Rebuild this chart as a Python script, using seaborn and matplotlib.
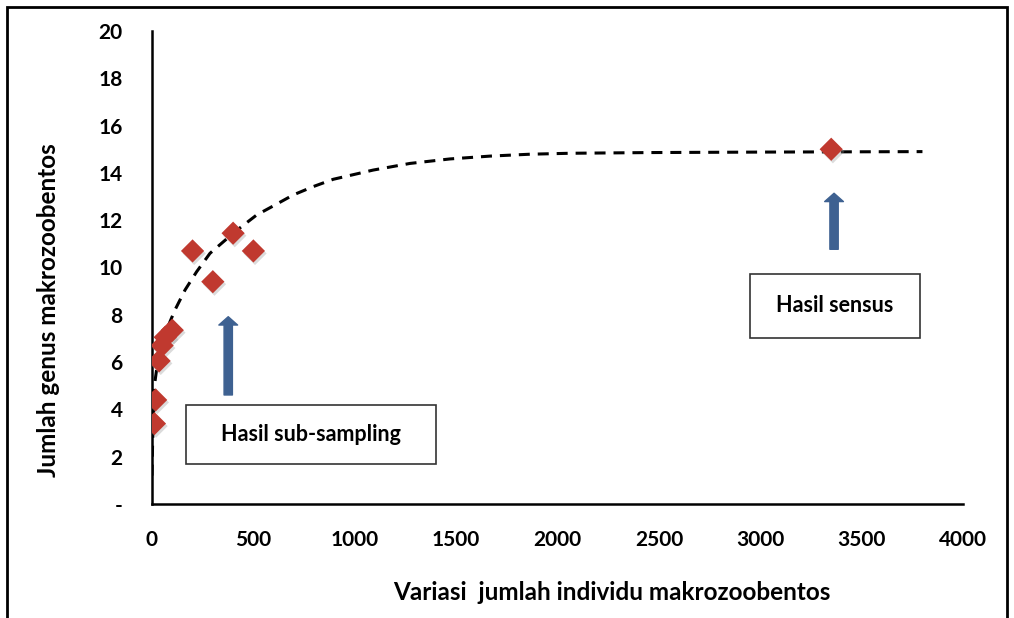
import matplotlib
matplotlib.use("Agg")
import matplotlib.pyplot as plt
import matplotlib.patheffects as pe
from matplotlib.patches import Rectangle, FancyArrowPatch
from matplotlib.ticker import FuncFormatter
import seaborn as sns
import pandas as pd

# Observed genus counts against number of individuals examined
individu_sub = [12, 18, 35, 50, 65, 100, 200, 300, 400, 500]
genus_sub = [3.4, 4.4, 6.05, 6.7, 7.05, 7.35, 10.7, 9.4, 11.45, 10.7]
individu_sensus = [3350]
genus_sensus = [15.0]

# Accumulation trend line
trend_x = [0, 3, 8, 15, 31, 56, 64, 113, 163, 220, 286, 409, 516, 606, 697,
           795, 894, 1091, 1272, 1469, 1667, 1864, 2061, 2456, 3000, 3800]
trend_y = [1.2, 2.6, 3.9, 5.2, 6.2, 6.9, 7.2, 8.2, 9.05, 9.82, 10.6, 11.51, 12.22,
           12.64, 13.07, 13.42, 13.73, 14.12, 14.4, 14.59, 14.71, 14.79, 14.83,
           14.86, 14.88, 14.9]

x_ticks = [0, 500, 1000, 1500, 2000, 2500, 3000, 3500, 4000]
y_ticks = [0, 2, 4, 6, 8, 10, 12, 14, 16, 18, 20]

label_x = "Variasi  jumlah individu makrozoobentos"
label_y = "Jumlah genus makrozoobentos"
note_sub = "Hasil sub-sampling"
note_sensus = "Hasil sensus"

sns.set_theme(style="white")
plt.rcParams["font.family"] = ["Lato", "DejaVu Sans"]

W, H = 1014, 618
fig = plt.figure(figsize=(W / 100, H / 100), dpi=100)
ax = fig.add_axes([152 / W, 1 - 504 / H, (963 - 152) / W, (504 - 31) / H])

points = pd.DataFrame({
    "individu": individu_sub + individu_sensus,
    "genus": genus_sub + genus_sensus,
})
trend = pd.DataFrame({"individu": trend_x, "genus": trend_y})

sns.lineplot(data=trend, x="individu", y="genus", sort=False, estimator=None,
             color="black", linewidth=2.2, ax=ax, zorder=2)
ax.lines[-1].set_dashes((3.6, 2.6))

shadow = [pe.SimplePatchShadow(offset=(1.2, -1.8), shadow_rgbFace="#999999", alpha=0.35),
          pe.Normal()]
sns.scatterplot(data=points, x="individu", y="genus", marker="D", s=140,
                color="#c0392f", edgecolor="none", ax=ax, zorder=3)
ax.collections[-1].set_path_effects(shadow)

ax.set_xlim(0, 4000)
ax.set_ylim(0, 20)
ax.set_xticks(x_ticks)
ax.set_yticks(y_ticks)
ax.yaxis.set_major_formatter(FuncFormatter(lambda v, p: "-" if v == 0 else f"{v:.0f}"))
ax.tick_params(axis="both", length=0, labelsize=15)
ax.tick_params(axis="y", pad=21)
ax.tick_params(axis="x", pad=19)
for t in ax.get_xticklabels() + ax.get_yticklabels():
    t.set_fontweight("bold")
    t.set_color("black")

ax.set_xlabel(label_x, fontsize=17.5, fontweight="bold", color="black",
              va="center", ha="center")
ax.set_ylabel(label_y, fontsize=17.5, fontweight="bold", color="black",
              va="center", ha="center")
ax.xaxis.set_label_coords(0.567, -0.188)
ax.yaxis.set_label_coords(-0.128, 0.41)

for side in ("top", "right"):
    ax.spines[side].set_visible(False)
for side in ("left", "bottom"):
    ax.spines[side].set_color("black")
    ax.spines[side].set_linewidth(1.8)

# Upward arrows pointing at the two groups
arrow_color = "#3e6191"
for (x0, y0, y1) in [(376, 4.61, 7.92), (3364, 10.77, 13.14)]:
    arr = FancyArrowPatch((x0, y0), (x0, y1),
                          arrowstyle="simple,head_width=1.35,head_length=0.6,tail_width=0.6",
                          mutation_scale=10, color=arrow_color, shrinkA=0, shrinkB=0,
                          zorder=4)
    ax.add_patch(arr)

# Annotation boxes
def note_box(left, top, right, bottom, text):
    fig.patches.append(Rectangle((left / W, 1 - bottom / H), (right - left) / W,
                                 (bottom - top) / H, transform=fig.transFigure,
                                 facecolor="white", edgecolor="#333333",
                                 linewidth=1.2, zorder=5))
    fig.text((left + right) / 2 / W, 1 - (top + bottom) / 2 / H, text,
             ha="center", va="center", fontsize=15.5, fontweight="bold",
             color="black", zorder=6)

note_box(186, 405, 436, 464, note_sub)
note_box(750, 274, 920, 338, note_sensus)

# Outer frame
fig.patches.append(Rectangle((7 / W, -0.1), 1000 / W, 1 - 7 / H + 0.1,
                             transform=fig.transFigure, facecolor="none",
                             edgecolor="black", linewidth=2, zorder=10))

fig.savefig("out.png", dpi=100)
